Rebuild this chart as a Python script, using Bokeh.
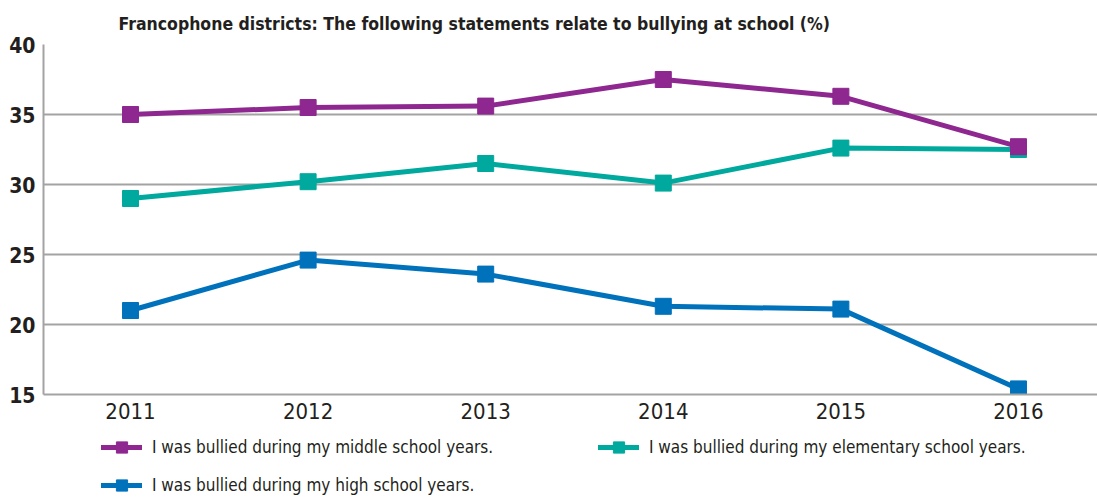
from bokeh.plotting import figure
from bokeh.layouts import column
from bokeh.models import FixedTicker, Legend, LegendItem, Range1d
from bokeh.embed import file_html
from bokeh.resources import INLINE

years = [2011, 2012, 2013, 2014, 2015, 2016]
middle = [35.0, 35.5, 35.6, 37.5, 36.3, 32.7]
elementary = [29.0, 30.2, 31.5, 30.1, 32.6, 32.5]
high = [21.0, 24.6, 23.6, 21.3, 21.1, 15.4]
y_ticks = [15, 20, 25, 30, 35, 40]

title_text = "Francophone districts: The following statements relate to bullying at school (%)"
label_middle = "I was bullied during my middle school years."
label_elem = "I was bullied during my elementary school years."
label_high = "I was bullied during my high school years."

C_MID = "#8E278F"
C_ELEM = "#00A99D"
C_HIGH = "#0072BC"
GRID = "#A3A3A3"
TXT = "#231F20"
FONT = "DejaVu Sans Condensed, Liberation Sans, sans-serif"

p = figure(width=1097, height=427, output_backend="svg",
           toolbar_location=None, x_range=Range1d(2010.51, 2016.445),
           y_range=Range1d(15, 40), title=title_text,
           min_border_left=43, min_border_right=0, min_border_top=43,
           min_border_bottom=33)

p.title.text_font = FONT
p.title.text_font_size = "17.5px"
p.title.text_font_style = "bold"
p.title.text_color = TXT
p.title.align = "left"
p.title.offset = 75
p.title.standoff = 22

p.outline_line_color = None
p.xgrid.grid_line_color = None
p.ygrid.grid_line_color = GRID
p.ygrid.grid_line_width = 2
p.ygrid.ticker = FixedTicker(ticks=y_ticks)

p.yaxis.ticker = FixedTicker(ticks=y_ticks)
p.xaxis.ticker = FixedTicker(ticks=years)
for ax in (p.xaxis, p.yaxis):
    ax.axis_line_color = GRID
    ax.axis_line_width = 2
    ax.major_tick_line_color = None
    ax.minor_tick_line_color = None
    ax.major_tick_out = 0
    ax.major_tick_in = 0
    ax.major_label_text_font = FONT
    ax.major_label_text_color = TXT
p.yaxis.major_label_text_font_size = "21px"
p.yaxis.major_label_text_font_style = "bold"
p.yaxis.major_label_standoff = 8
p.xaxis.major_label_text_font_size = "22px"
p.xaxis.major_label_standoff = 8

series = [("elem", elementary, C_ELEM), ("mid", middle, C_MID), ("high", high, C_HIGH)]
for key, vals, col in series:
    p.line(years, vals, line_color=col, line_width=5)
    p.scatter(years, vals, marker="square", size=16, fill_color=col, line_color=col)

# legend strip below the chart (its glyph renderers sit outside the strip's ranges)
p2 = figure(width=1097, height=72, output_backend="svg", toolbar_location=None,
            x_range=Range1d(0, 1), y_range=Range1d(0, 1),
            x_axis_location=None, y_axis_location=None,
            min_border_left=0, min_border_right=0, min_border_top=0,
            min_border_bottom=0)
p2.outline_line_color = None
p2.grid.visible = False

leg_r = {}
for key, vals, col in series:
    l = p2.line(x=[-10, -9], y=[-10, -9], line_color=col, line_width=5, line_cap="round")
    m = p2.scatter(x=[-10], y=[-10], marker="square", size=16, fill_color=col, line_color=col)
    leg_r[key] = [l, m]

legend = Legend(items=[
    LegendItem(label=label_middle, renderers=leg_r["mid"]),
    LegendItem(label=label_elem, renderers=leg_r["elem"]),
    LegendItem(label=label_high, renderers=leg_r["high"]),
], orientation="horizontal", ncols=2)
legend.label_text_font = FONT
legend.label_text_font_size = "17px"
legend.label_text_color = TXT
legend.glyph_width = 41
legend.glyph_height = 28
legend.label_height = 28
legend.label_standoff = 10
legend.label_width = 436
legend.spacing = 10
legend.border_line_color = None
legend.background_fill_alpha = 0
legend.location = (58, 0)
legend.padding = 0
legend.margin = 0
p2.add_layout(legend, "center")

open("out.html", "w").write(file_html(column(p, p2, spacing=0), INLINE))
